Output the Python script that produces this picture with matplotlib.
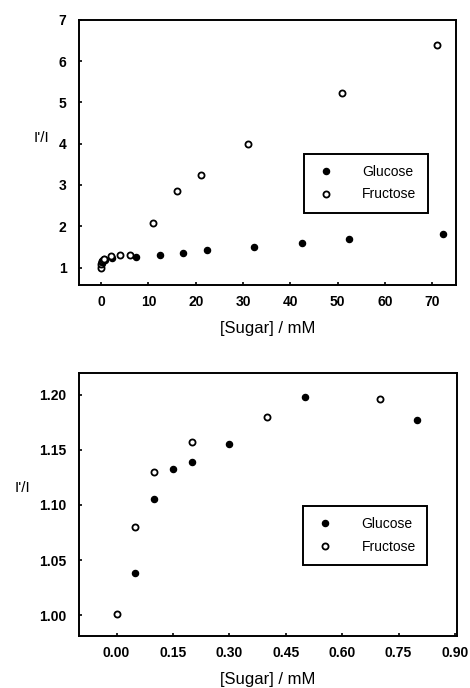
import matplotlib
matplotlib.use("Agg")
import matplotlib.pyplot as plt

plt.rcParams['font.family'] = ['Liberation Sans', 'DejaVu Sans']

# full concentration range (mM)
glu_x_full = [0.05, 0.1, 0.15, 0.2, 0.3, 0.5, 0.8, 2.2, 7.4, 12.5, 17.3, 22.4, 32.4, 42.5, 52.4, 72.3]
glu_y_full = [1.038, 1.105, 1.133, 1.139, 1.155, 1.198, 1.177, 1.22, 1.26, 1.30, 1.34, 1.42, 1.49, 1.60, 1.68, 1.81]
fru_x_full = [0.0, 0.05, 0.1, 0.2, 0.4, 0.7, 2.0, 4.0, 6.0, 11.0, 16.0, 21.0, 31.0, 51.0, 71.0]
fru_y_full = [1.0, 1.08, 1.13, 1.156, 1.18, 1.196, 1.27, 1.30, 1.30, 2.08, 2.86, 3.25, 3.99, 5.23, 6.39]

# low concentration range (mM)
glu_x_low = [0.05, 0.1, 0.15, 0.2, 0.3, 0.5, 0.8]
glu_y_low = [1.038, 1.105, 1.133, 1.139, 1.155, 1.198, 1.177]
fru_x_low = [0.0, 0.05, 0.1, 0.2, 0.4, 0.7]
fru_y_low = [1.001, 1.080, 1.130, 1.157, 1.180, 1.196]

top_xticks = [0, 10, 20, 30, 40, 50, 60, 70]
top_yticks = [1, 2, 3, 4, 5, 6, 7]
low_xticks = [0.0, 0.15, 0.30, 0.45, 0.60, 0.75, 0.90]
low_yticks = [1.00, 1.05, 1.10, 1.15, 1.20]

fig = plt.figure(figsize=(4.7, 6.88), dpi=100)
ax1 = fig.add_axes([0.168, 0.586, 0.802, 0.385])
ax2 = fig.add_axes([0.168, 0.0756, 0.804, 0.382])


def style_axis(ax):
    for s in ax.spines.values():
        s.set_linewidth(1.4)
    ax.tick_params(direction='in', length=2.5, width=1.2, labelsize=10)
    ax.tick_params(axis='y', pad=9)
    ax.tick_params(axis='x', pad=7)
    for lab in ax.get_xticklabels() + ax.get_yticklabels():
        lab.set_fontweight('bold')


def draw(ax, gx, gy, fx, fy):
    ax.plot(gx, gy, 'o', ls='none', color='black', ms=4.4, label='Glucose')
    ax.plot(fx, fy, 'o', ls='none', mfc='white', mec='black', mew=1.3, ms=4.4, label='Fructose')
    leg = ax.legend(loc='upper left', fancybox=False, framealpha=1, edgecolor='black',
                    fontsize=10, handletextpad=1.8, borderpad=0.8, labelspacing=0.6,
                    handlelength=1.6, borderaxespad=0)
    leg.get_frame().set_linewidth(1.4)
    return leg


leg1 = draw(ax1, glu_x_full, glu_y_full, fru_x_full, fru_y_full)
leg1.set_bbox_to_anchor((0.597, 0.494), transform=ax1.transAxes)
ax1.set_xlim(-4.7, 75)
ax1.set_ylim(0.58, 7.0)
ax1.set_xticks(top_xticks)
ax1.set_yticks(top_yticks)
ax1.set_xlabel('[Sugar] / mM', fontsize=12, labelpad=9)
ax1.set_ylabel("I'/I", fontsize=11, rotation=0)
ax1.yaxis.set_label_coords(-0.10, 0.528)
style_axis(ax1)

leg2 = draw(ax2, glu_x_low, glu_y_low, fru_x_low, fru_y_low)
leg2.set_bbox_to_anchor((0.593, 0.494), transform=ax2.transAxes)
ax2.set_xlim(-0.1, 0.905)
ax2.set_ylim(0.981, 1.2197)
ax2.set_xticks(low_xticks)
ax2.set_xticklabels(['0.00', '0.15', '0.30', '0.45', '0.60', '0.75', '0.90'])
ax2.set_yticks(low_yticks)
ax2.set_yticklabels(['1.00', '1.05', '1.10', '1.15', '1.20'])
ax2.set_xlabel('[Sugar] / mM', fontsize=12, labelpad=9)
ax2.set_ylabel("I'/I", fontsize=11, rotation=0)
ax2.yaxis.set_label_coords(-0.15, 0.536)
style_axis(ax2)

fig.savefig('out.png', dpi=100)
